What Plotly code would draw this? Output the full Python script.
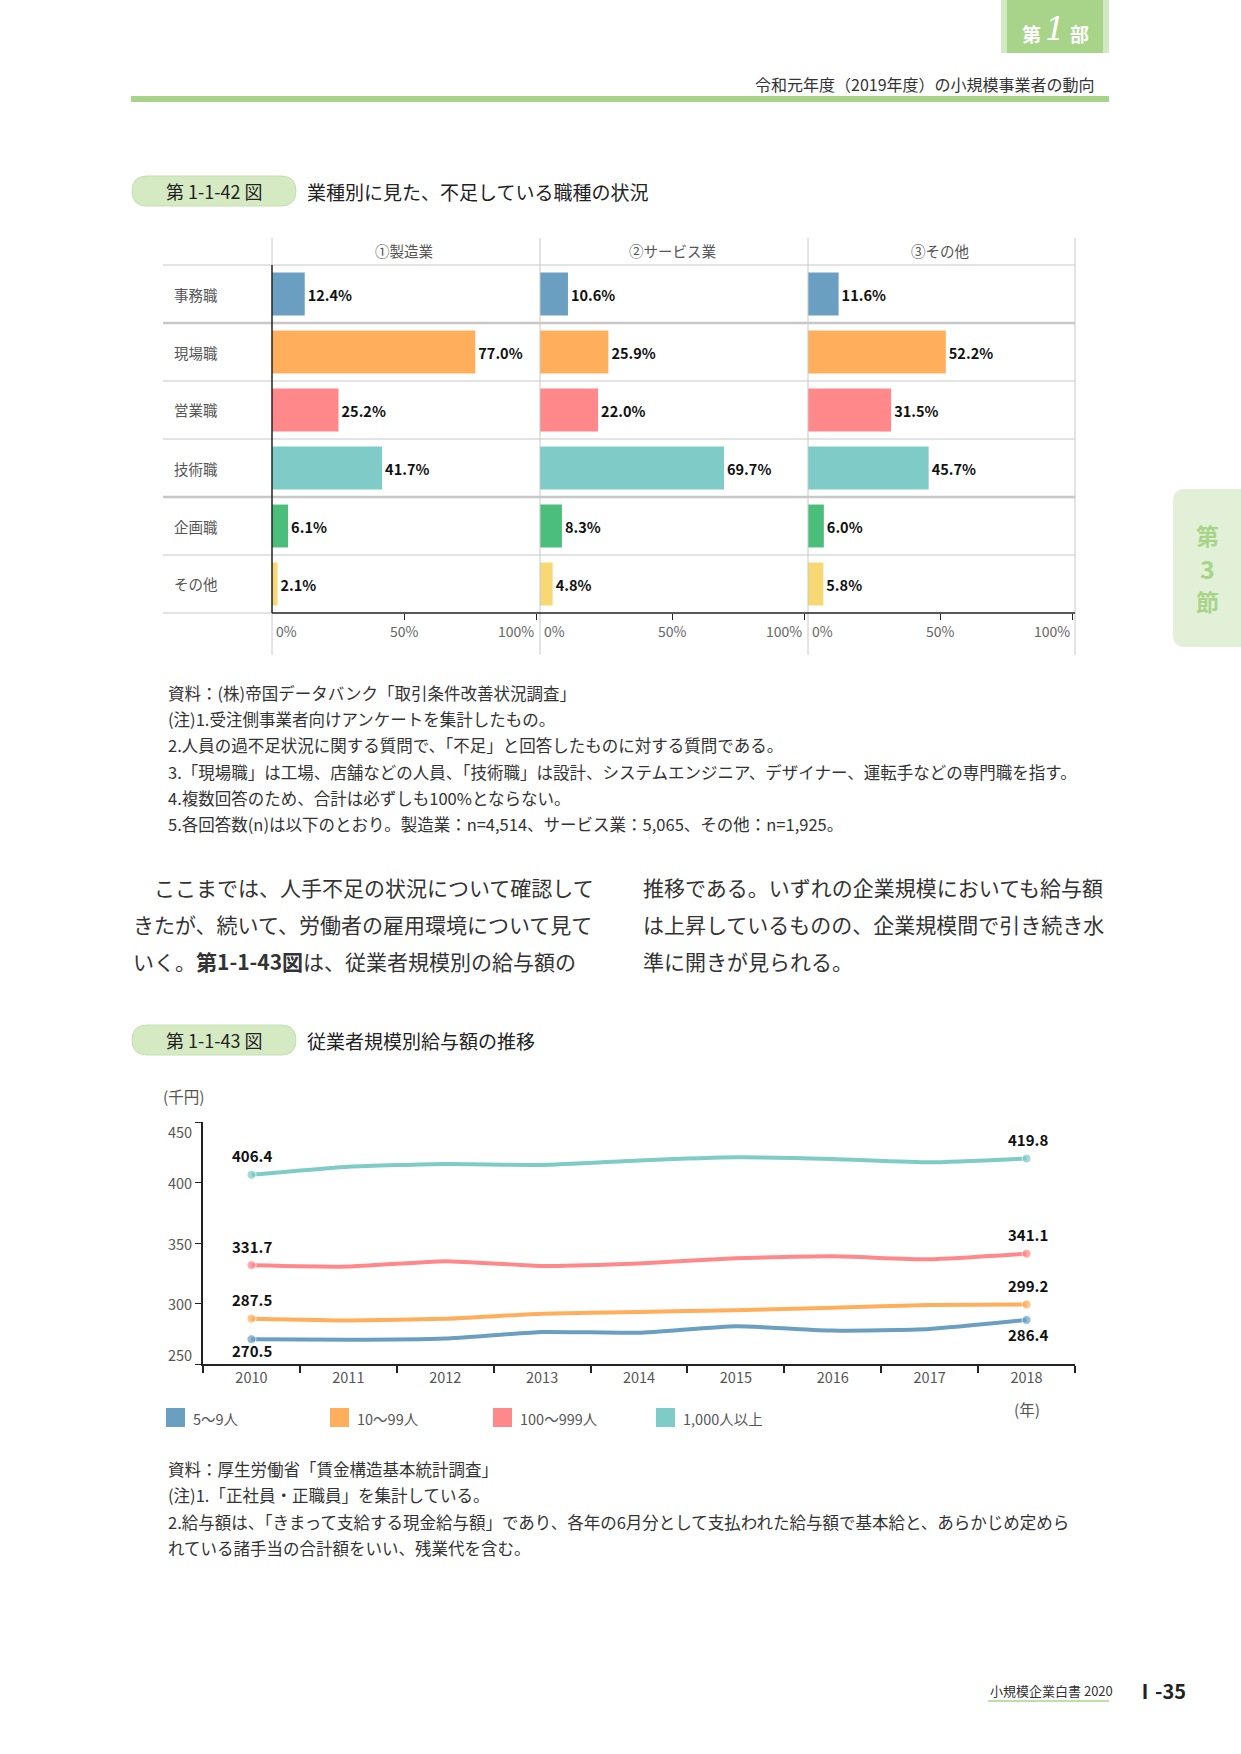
import plotly.graph_objects as go

W, H = 1241, 1754
F = "Noto Sans CJK JP, Noto Sans, sans-serif"

# ---------------- data ----------------
jobs = ["事務職", "現場職", "営業職", "技術職", "企画職", "その他"]
industries = ["①製造業", "②サービス業", "③その他"]
manufacturing = [12.4, 77.0, 25.2, 41.7, 6.1, 2.1]
services = [10.6, 25.9, 22.0, 69.7, 8.3, 4.8]
others = [11.6, 52.2, 31.5, 45.7, 6.0, 5.8]
job_colors = ["#6a9fc2", "#ffae5c", "#ff888b", "#7ecbc7", "#4bbe7b", "#f8d872"]
pct_ticks = [0, 50, 100]
pct_labels = ["0%", "50%", "100%"]

years = ["2010", "2011", "2012", "2013", "2014", "2015", "2016", "2017", "2018"]
size_names = ["5～9人", "10～99人", "100～999人", "1,000人以上"]
wage_5_9 = [270.5, 270.0, 271.0, 276.5, 275.8, 281.2, 277.6, 279.0, 286.4]
wage_10_99 = [287.5, 286.0, 287.3, 291.6, 293.0, 294.5, 296.5, 298.7, 299.2]
wage_100_999 = [331.7, 330.5, 335.0, 331.0, 333.0, 337.5, 339.0, 336.5, 341.1]
wage_1000 = [406.4, 413.0, 415.3, 414.5, 418.2, 420.8, 419.5, 416.7, 419.8]
size_colors = ["#6a9fc2", "#ffae5c", "#ff888b", "#7ecbc7"]
wage_ticks = [250, 300, 350, 400, 450]

notes1 = [
    "資料：(株)帝国データバンク「取引条件改善状況調査」",
    "(注)1.受注側事業者向けアンケートを集計したもの。",
    "2.人員の過不足状況に関する質問で、「不足」と回答したものに対する質問である。",
    "3.「現場職」は工場、店舗などの人員、「技術職」は設計、システムエンジニア、デザイナー、運転手などの専門職を指す。",
    "4.複数回答のため、合計は必ずしも100%とならない。",
    "5.各回答数(n)は以下のとおり。製造業：n=4,514、サービス業：5,065、その他：n=1,925。",
]
notes2 = [
    "資料：厚生労働省「賃金構造基本統計調査」",
    "(注)1.「正社員・正職員」を集計している。",
    "2.給与額は、「きまって支給する現金給与額」であり、各年の6月分として支払われた給与額で基本給と、あらかじめ定めら",
    "れている諸手当の合計額をいい、残業代を含む。",
]
body_left = [
    "　ここまでは、人手不足の状況について確認して",
    "きたが、続いて、労働者の雇用環境について見て",
    "いく。<b>第1-1-43図</b>は、従業者規模別の給与額の",
]
body_right = [
    "推移である。いずれの企業規模においても給与額",
    "は上昇しているものの、企業規模間で引き続き水",
    "準に開きが見られる。",
]


def X(px):
    return px / W


def Y(py):
    return 1 - py / H


def rrect_path(x0, y0, x1, y1, r, left_only=False):
    if left_only:
        return (f"M {X(x1)},{Y(y0)} L {X(x0 + r)},{Y(y0)} Q {X(x0)},{Y(y0)} {X(x0)},{Y(y0 + r)} "
                f"L {X(x0)},{Y(y1 - r)} Q {X(x0)},{Y(y1)} {X(x0 + r)},{Y(y1)} L {X(x1)},{Y(y1)} Z")
    return (f"M {X(x0 + r)},{Y(y0)} L {X(x1 - r)},{Y(y0)} Q {X(x1)},{Y(y0)} {X(x1)},{Y(y0 + r)} "
            f"L {X(x1)},{Y(y1 - r)} Q {X(x1)},{Y(y1)} {X(x1 - r)},{Y(y1)} "
            f"L {X(x0 + r)},{Y(y1)} Q {X(x0)},{Y(y1)} {X(x0)},{Y(y1 - r)} "
            f"L {X(x0)},{Y(y0 + r)} Q {X(x0)},{Y(y0)} {X(x0 + r)},{Y(y0)} Z")


fig = go.Figure()
shapes = []
ann = []


def text(px, py, s, size=14, color="#333", xanchor="left", yanchor="middle", family=F, **kw):
    ann.append(dict(x=X(px), y=Y(py), xref="paper", yref="paper", text=s, showarrow=False,
                    xanchor=xanchor, yanchor=yanchor,
                    font=dict(family=family, size=size, color=color), **kw))


def line(x0, y0, x1, y1, color="#c8c8c8", width=1):
    shapes.append(dict(type="line", xref="paper", yref="paper", x0=X(x0), y0=Y(y0), x1=X(x1), y1=Y(y1),
                       line=dict(color=color, width=width), layer="above"))


def rect(x0, y0, x1, y1, fill):
    shapes.append(dict(type="rect", xref="paper", yref="paper", x0=X(x0), y0=Y(y0), x1=X(x1), y1=Y(y1),
                       fillcolor=fill, line=dict(width=0), layer="below"))


# ---------------- page header ----------------
rect(1001, 0, 1109, 53, "#d3e9c3")
rect(1007, 0, 1103, 53, "#a8d48a")
text(1031, 33, "<b>第</b>", size=19, color="white", xanchor="center")
text(1055, 29, "<i>1</i>", size=32, color="white", xanchor="center", family="DejaVu Serif, Liberation Serif, serif")
text(1079, 33, "<b>部</b>", size=19, color="white", xanchor="center")
text(1097, 84, "令和元年度（2019年度）の小規模事業者の動向", size=16, color="#333", xanchor="right")
rect(131, 96, 1109, 102, "#a8d48a")

# side tab
shapes.append(dict(type="path", xref="paper", yref="paper", path=rrect_path(1173, 489, 1241, 647, 12, left_only=True),
                   fillcolor="#e3f0d8", line=dict(width=0), layer="below"))
text(1207, 535, "<b>第</b>", size=23, color="#a8d48a", xanchor="center")
text(1207, 568, "<b>3</b>", size=25, color="#a8d48a", xanchor="center")
text(1207, 601, "<b>節</b>", size=23, color="#a8d48a", xanchor="center")


# ---------------- figure titles ----------------
def fig_title(py_top, num, title):
    shapes.append(dict(type="path", xref="paper", yref="paper", path=rrect_path(132, py_top, 296, py_top + 30, 15),
                       fillcolor="#d5eac3", line=dict(width=1, color="#c4e0ad"), layer="below"))
    text(214, py_top + 15, num, size=18, color="#222", xanchor="center")
    text(305, py_top + 15, title, size=19, color="#222")


fig_title(176, "第 1-1-42 図", "業種別に見た、不足している職種の状況")
fig_title(1025, "第 1-1-43 図", "従業者規模別給与額の推移")

# ---------------- bar chart ----------------
panel_w = 264
series = [manufacturing, services, others]
axnames = ["x", "x2", "x3"]
for i, (vals, ax) in enumerate(zip(series, axnames)):
    fig.add_trace(go.Bar(
        x=vals, y=jobs, orientation="h", xaxis=ax, yaxis="y",
        marker=dict(color=job_colors, line=dict(width=0)),
        texttemplate="%{x:.1f}%", textposition="outside", cliponaxis=False, constraintext="none",
        textfont=dict(family=F, size=14.5, color="#111", weight="bold"),
        showlegend=False, hoverinfo="skip"))
    ann.append(dict(x=50, y=Y(250), xref=ax, yref="paper", text=industries[i], showarrow=False,
                    xanchor="center", yanchor="middle", font=dict(family=F, size=14.5, color="#555")))
    for tv, tl, xa, xs in zip(pct_ticks, pct_labels, ["left", "center", "right"], [2, 0, 0]):
        ann.append(dict(x=tv, y=Y(631), xref=ax, yref="paper", text=tl, showarrow=False,
                        xanchor=xa, yanchor="middle", xshift=xs, font=dict(family=F, size=14, color="#666")))

row_edges = [265, 323, 381, 439, 497, 555, 613]
for j, job in enumerate(jobs):
    text(172, (row_edges[j] + row_edges[j + 1]) / 2, job, size=14.5, color="#555")
for ry in row_edges[:-1]:
    line(163, ry, 1075, ry, width=2.5 if ry in (323, 497) else 1)
line(163, 613, 272, 613)
for vx in [540, 808, 1075]:
    line(vx, 238, vx, 655)
line(272, 238, 272, 265)
line(272, 613, 272, 655)
line(272, 265, 272, 613, color="#222", width=1.5)
line(272, 613, 1075, 613, color="#222", width=1.5)

bar_x_common = dict(range=[0, 100], showgrid=False, zeroline=False, showticklabels=False,
                    ticks="outside", tickvals=[50, 100], ticklen=6, tickcolor="#222", tickwidth=1.2,
                    anchor="y", fixedrange=True)

# notes 1
for i, s in enumerate(notes1):
    text(166, 693 + 26.2 * i, s, size=16.5, color="#333")

# body text
for i, s in enumerate(body_left):
    text(131, 887 + 37 * i, s, size=21, color="#333")
for i, s in enumerate(body_right):
    text(641, 887 + 37 * i, s, size=21, color="#333")

# ---------------- line chart ----------------
wages = [wage_5_9, wage_10_99, wage_100_999, wage_1000]
for name, vals, col in zip(size_names, wages, size_colors):
    n = len(vals)
    msize = [9 if (k == 0 or k == n - 1) else 0 for k in range(n)]
    fig.add_trace(go.Scatter(
        x=years, y=vals, mode="lines+markers", xaxis="x4", yaxis="y4", name=name,
        line=dict(color=col, width=4, shape="spline", smoothing=0.5),
        marker=dict(size=msize, color=col), showlegend=False, hoverinfo="skip", cliponaxis=False))
    below = vals is wage_5_9
    for k, ys in [(0, -11 if below else 19), (n - 1, -15 if below else 19)]:
        ann.append(dict(x=k, y=vals[k], xref="x4", yref="y4", text=f"{vals[k]:.1f}", showarrow=False,
                        xanchor="center", yanchor="middle", yshift=ys, xshift=1,
                        font=dict(family=F, size=15, color="#111", weight="bold")))

# y tick labels (end labels nudged inward as in the original)
for tv, ysh in zip(wage_ticks, [10, 0, 0, 0, -9]):
    ann.append(dict(x=X(194), y=tv, xref="paper", yref="y4", text=str(tv), showarrow=False,
                    xanchor="right", yanchor="middle", yshift=ysh,
                    font=dict(family=F, size=14.5, color="#555")))

text(183, 1096, "(千円)", size=15.5, color="#555", xanchor="center")
text(1027, 1409, "(年)", size=15.5, color="#555", xanchor="center")

legend_x = [166, 330, 493, 656]
for lx, name, col in zip(legend_x, size_names, size_colors):
    rect(lx, 1408, lx + 19, 1427, col)
    text(lx + 25, 1418, name, size=14.5, color="#555")

# notes 2
for i, s in enumerate(notes2):
    text(166, 1469 + 26.3 * i, s, size=16.5, color="#333")

# footer
text(988, 1690, "小規模企業白書 2020", size=13, color="#333")
line(988, 1701, 1109, 1701, color="#a8d48a", width=1.5)
text(1133, 1690, "<b>Ⅰ-35</b>", size=20, color="#222")

fig.update_layout(
    width=W, height=H, margin=dict(l=0, r=0, t=0, b=0, pad=0, autoexpand=False),
    paper_bgcolor="white", plot_bgcolor="rgba(0,0,0,0)",
    font=dict(family=F, color="#333"),
    showlegend=False, bargap=0.26,
    xaxis=dict(domain=[X(272), X(272 + panel_w)], **bar_x_common),
    xaxis2=dict(domain=[X(540), X(540 + panel_w)], **bar_x_common),
    xaxis3=dict(domain=[X(808), X(808 + panel_w)], **bar_x_common),
    yaxis=dict(domain=[Y(613), Y(265)], type="category", categoryorder="array", categoryarray=jobs,
               range=[5.5, -0.5], showgrid=False, zeroline=False, showticklabels=False, anchor="x",
               fixedrange=True),
    xaxis4=dict(domain=[X(203), X(1075)], anchor="y4", type="category", range=[-0.5, 8.5],
                showline=True, linecolor="#222", linewidth=1.5, ticks="outside", tickson="boundaries",
                ticklen=7, tickwidth=1.5, tickcolor="#222", showgrid=False, zeroline=False,
                tickfont=dict(family=F, size=14.5, color="#555")),
    yaxis4=dict(domain=[Y(1364), Y(1122)], anchor="x4", range=[250, 450], tickvals=wage_ticks,
                showline=True, linecolor="#222", linewidth=1.5, ticks="outside", ticklen=6,
                tickwidth=1.2, tickcolor="#222", showgrid=False, zeroline=False, showticklabels=False),
    shapes=shapes, annotations=ann,
)

fig.write_html("out.html")
